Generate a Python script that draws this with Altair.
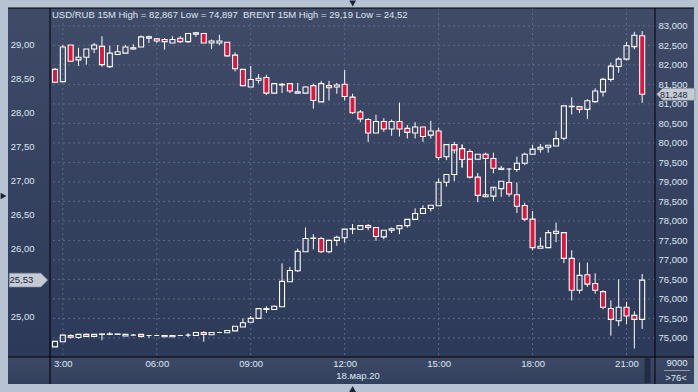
import altair as alt
import pandas as pd

# ---------------- data ----------------
start_time = "2020-03-18 02:45"
n_bars = 76
time_ticks = ["03:00", "06:00", "09:00", "12:00", "15:00", "18:00", "21:00"]

usd_open = [74.77, 74.90, 75.06, 75.01, 75.09, 75.04, 75.09, 75.09, 75.09, 75.05, 75.07, 75.09, 75.06, 75.06, 75.03, 75.03,
            75.06, 75.07, 75.06, 75.14, 75.08, 75.14, 75.13, 75.18, 75.28, 75.40, 75.50, 75.73, 75.73, 75.80, 76.44, 76.72,
            77.21, 77.55, 77.55, 77.21, 77.50, 77.57, 77.79, 77.78, 77.88, 77.83, 77.59, 77.76, 77.80, 77.88, 78.04, 78.19,
            78.32, 78.39, 78.99, 79.19, 79.85, 79.78, 79.58, 79.71, 79.60, 79.32, 79.33, 79.32, 79.48, 79.71, 79.84, 79.89,
            79.92, 80.12, 80.93, 80.93, 80.86, 81.06, 81.31, 81.63, 81.96, 82.15, 82.47, 82.75]
usd_high = [74.91, 75.07, 75.09, 75.09, 75.11, 75.09, 75.10, 75.15, 75.10, 75.09, 75.10, 75.09, 75.06, 75.06, 75.06, 75.06,
            75.06, 75.12, 75.14, 75.17, 75.14, 75.14, 75.19, 75.30, 75.50, 75.56, 75.75, 75.81, 75.83, 76.91, 76.82, 77.29,
            77.83, 77.66, 77.59, 77.52, 77.62, 77.79, 77.92, 77.88, 77.92, 77.83, 77.76, 77.83, 77.88, 78.04, 78.32, 78.40,
            78.40, 79.09, 79.19, 79.96, 79.96, 79.84, 79.71, 79.75, 79.75, 79.41, 79.35, 79.65, 79.75, 79.95, 79.97, 79.94,
            80.31, 80.95, 81.17, 80.93, 81.12, 81.40, 81.67, 82.06, 82.20, 82.59, 82.85, 82.867]
usd_low = [74.77, 74.897, 74.98, 74.98, 75.04, 75.04, 74.94, 75.07, 75.09, 75.05, 75.07, 75.01, 75.00, 75.06, 75.03, 75.03,
           75.06, 75.02, 75.06, 74.90, 75.08, 75.14, 75.13, 75.18, 75.28, 75.40, 75.50, 75.64, 75.73, 75.80, 76.44, 76.69,
           77.21, 77.27, 77.18, 77.17, 77.36, 77.44, 77.66, 77.78, 77.76, 77.49, 77.53, 77.69, 77.66, 77.83, 78.04, 78.19,
           78.24, 78.39, 78.88, 79.02, 79.37, 79.58, 79.58, 78.62, 79.22, 79.30, 79.30, 79.26, 79.43, 79.71, 79.75, 79.75,
           79.92, 80.07, 80.73, 80.77, 80.61, 81.03, 81.19, 81.57, 81.80, 82.11, 82.40, 81.03]
usd_close = [74.91, 75.07, 75.02, 75.09, 75.04, 75.09, 75.10, 75.10, 75.10, 75.09, 75.07, 75.04, 75.06, 75.06, 75.06, 75.06,
             75.06, 75.07, 75.14, 75.09, 75.14, 75.14, 75.19, 75.30, 75.39, 75.50, 75.75, 75.75, 75.81, 76.45, 76.73, 77.22,
             77.55, 77.56, 77.21, 77.50, 77.58, 77.79, 77.80, 77.88, 77.83, 77.60, 77.76, 77.80, 77.88, 78.04, 78.19, 78.32,
             78.40, 78.99, 79.19, 79.96, 79.78, 79.58, 79.71, 79.60, 79.35, 79.35, 79.33, 79.48, 79.71, 79.84, 79.89, 79.94,
             80.11, 80.95, 80.94, 80.86, 81.08, 81.33, 81.63, 81.97, 82.15, 82.49, 82.76, 81.248]

brent_open = [28.64, 28.46, 29.00, 28.78, 28.82, 28.94, 28.98, 28.68, 28.86, 28.88, 28.94, 28.97, 29.10, 29.09, 29.08, 29.03,
              29.10, 29.05, 29.16, 29.17, 29.03, 29.03, 29.04, 28.85, 28.64, 28.38, 28.48, 28.52, 28.29, 28.41, 28.43, 28.29,
              28.29, 28.40, 28.16, 28.40, 28.38, 28.42, 28.23, 28.01, 27.90, 27.70, 27.87, 27.76, 27.87, 27.77, 27.70, 27.79,
              27.67, 27.73, 27.35, 27.53, 27.47, 27.31, 27.05, 26.76, 26.77, 26.88, 26.97, 26.79, 26.63, 26.43, 26.00, 26.01,
              26.22, 26.23, 25.85, 25.38, 25.61, 25.48, 25.36, 25.11, 24.93, 25.13, 25.01, 24.95]
brent_high = [28.66, 29.00, 29.00, 28.96, 28.94, 29.03, 29.13, 28.99, 29.00, 29.00, 29.01, 29.14, 29.14, 29.10, 29.10, 29.13,
              29.13, 29.17, 29.19, 29.18, 29.08, 29.15, 29.04, 28.89, 28.64, 28.69, 28.57, 28.56, 28.43, 28.44, 28.43, 28.44,
              28.39, 28.43, 28.47, 28.47, 28.44, 28.63, 28.28, 28.04, 27.92, 27.97, 27.92, 27.90, 28.15, 27.82, 27.86, 27.79,
              27.88, 27.78, 27.53, 27.57, 27.53, 27.33, 27.11, 26.80, 26.85, 26.99, 27.16, 26.97, 26.67, 26.55, 26.16, 26.27,
              26.38, 26.23, 25.97, 25.79, 25.79, 25.63, 25.38, 25.23, 25.54, 25.21, 25.07, 25.62]
brent_low = [28.44, 28.45, 28.75, 28.69, 28.71, 28.88, 28.68, 28.66, 28.85, 28.88, 28.93, 28.97, 29.03, 29.03, 28.93, 29.03,
             29.03, 29.03, 29.12, 29.03, 28.94, 29.00, 28.83, 28.61, 28.39, 28.38, 28.43, 28.26, 28.29, 28.29, 28.29, 28.29,
             28.29, 28.06, 28.16, 28.18, 28.28, 28.18, 27.98, 27.86, 27.57, 27.70, 27.72, 27.66, 27.65, 27.62, 27.62, 27.57,
             27.62, 27.30, 27.30, 27.40, 27.19, 27.03, 26.68, 26.76, 26.70, 26.76, 26.76, 26.52, 26.40, 25.97, 26.00, 26.00,
             26.09, 25.78, 25.23, 25.33, 25.43, 25.33, 25.10, 24.71, 24.85, 24.88, 24.52, 24.81]
brent_close = [28.45, 28.97, 28.76, 28.82, 28.94, 29.00, 28.71, 28.88, 28.90, 28.97, 28.96, 29.12, 29.12, 29.06, 29.05, 29.08,
               29.05, 29.17, 29.18, 29.03, 29.06, 29.06, 28.84, 28.65, 28.40, 28.49, 28.51, 28.29, 28.43, 28.42, 28.32, 28.31,
               28.38, 28.18, 28.43, 28.37, 28.41, 28.24, 28.00, 27.91, 27.70, 27.87, 27.76, 27.87, 27.76, 27.71, 27.79, 27.65,
               27.73, 27.34, 27.53, 27.45, 27.31, 27.05, 26.78, 26.79, 26.90, 26.99, 26.80, 26.62, 26.43, 26.01, 26.03, 26.23,
               26.25, 25.85, 25.38, 25.60, 25.47, 25.38, 25.13, 24.95, 25.13, 25.00, 24.95, 25.53]

usd_ticks = [75.0, 75.5, 76.0, 76.5, 77.0, 77.5, 78.0, 78.5, 79.0, 79.5, 80.0, 80.5, 81.0, 81.5, 82.0, 82.5, 83.0]
brent_ticks = [25.0, 26.0, 26.5, 27.0, 27.5, 28.0, 28.5, 29.0]
usd_domain = [74.51, 83.46]
brent_domain = [24.395, 29.546]

header_usd = "USD/RUB 15M High = 82,867 Low = 74,897"
header_brent = "BRENT 15M High = 29,19 Low = 24,52"
date_label = "18.мар.20"
corner_top = "9000"
corner_bottom = ">76<"

# ---------------- styling ----------------
RED = "#e2143c"
TXT = "#dfe7f4"
GRID = "#5c6986"
FONT = "Liberation Sans"
FS = 9.5
W, H = 605, 349


def ms(hhmm):
    return int(pd.Timestamp(f"2020-03-18 {hhmm}", tz="UTC").timestamp() * 1000)


times = pd.date_range(start_time, periods=n_bars, freq="15min", tz="UTC")
tstr = [t.strftime("%Y-%m-%dT%H:%M:%SZ") for t in times]


def frame(o, h, l, c):
    df = pd.DataFrame({"t": tstr, "o": o, "h": h, "l": l, "c": c})
    df["top"] = df[["o", "c"]].max(axis=1)
    df["bot"] = df[["o", "c"]].min(axis=1)
    return df


usd = frame(usd_open, usd_high, usd_low, usd_close)
brent = frame(brent_open, brent_high, brent_low, brent_close)

common_axis = dict(title=None, labelOverlap=False, labelFlush=False, zindex=2, domain=False, ticks=False,
                   grid=False, labelFont=FONT, labelFontSize=FS, labelColor=TXT)

xscale = alt.Scale(type="utc", domain=[ms("02:45"), ms("21:45")])
tick_ms = [ms(t) for t in time_ticks]
xaxis = alt.Axis(values=tick_ms, labelPadding=1, **common_axis,
                 labelExpr="utchours(datum.value) == 3 ? '3:00' : utcFormat(datum.value, '%H:%M')")
X = alt.X("t:T", scale=xscale, axis=xaxis)

one = pd.DataFrame({"a": [0]})

usd_scale = alt.Scale(domain=usd_domain, nice=False, zero=False)
brent_scale = alt.Scale(domain=brent_domain, nice=False, zero=False)

usd_axis = alt.Axis(orient="right", values=usd_ticks, labelPadding=3, **common_axis,
                    labelExpr="replace(format(datum.value, '.3f'), '.', ',')")
brent_axis = alt.Axis(orient="left", values=brent_ticks, labelPadding=16, **common_axis,
                      labelExpr="replace(format(datum.value, '.2f'), '.', ',')")


def candles(df, yscale, axis):
    up = alt.Chart(df).mark_rule(color="white", strokeWidth=1, clip=True).encode(
        x=X, y=alt.Y("h:Q", scale=yscale, axis=axis), y2="top:Q")
    dn = alt.Chart(df).mark_rule(color="white", strokeWidth=1, clip=True).encode(
        x=X, y=alt.Y("bot:Q", scale=yscale, axis=axis), y2="l:Q")
    body = alt.Chart(df).mark_bar(size=5, stroke="white", strokeWidth=1.1, clip=True).encode(
        x=X, y=alt.Y("top:Q", scale=yscale, axis=axis), y2="bot:Q",
        fill=alt.condition("datum.c < datum.o", alt.value(RED), alt.value("transparent")))
    return [up, dn, body]


# background panels
grad_main = alt.LinearGradient(gradient="linear", x1=0, x2=0, y1=0, y2=1,
                               stops=[alt.GradientStop(color="#3f4b67", offset=0),
                                      alt.GradientStop(color="#2c3958", offset=1)])
grad_bottom = alt.LinearGradient(gradient="linear", x1=0, x2=0, y1=0, y2=1,
                                 stops=[alt.GradientStop(color="#3d4965", offset=0),
                                        alt.GradientStop(color="#33405d", offset=1)])
bg_main = alt.Chart(one).mark_rect(color=grad_main).encode(
    x=alt.value(-42), x2=alt.value(644), y=alt.value(0), y2=alt.value(H))
bg_bottom = alt.Chart(one).mark_rect(color=grad_bottom).encode(
    x=alt.value(-42), x2=alt.value(644), y=alt.value(H), y2=alt.value(H + 27))

# grid
grid_t = pd.DataFrame({"t": [pd.Timestamp(m, unit="ms", tz="UTC").strftime("%Y-%m-%dT%H:%M:%SZ") for m in tick_ms]})
vgrid = alt.Chart(grid_t).mark_rule(color=GRID, strokeDash=[2, 3], strokeWidth=1).encode(x=X)
hgrid = alt.Chart(pd.DataFrame({"v": usd_ticks})).mark_rule(
    color=GRID, strokeDash=[2, 3], strokeWidth=1).encode(y=alt.Y("v:Q", scale=usd_scale, axis=usd_axis))

# last-price markers
usd_last = pd.DataFrame({"v": [usd_close[-1]], "s": [f"{usd_close[-1]:.3f}".replace(".", ",")]})
brent_last = pd.DataFrame({"v": [brent_close[-1]], "s": [f"{brent_close[-1]:.2f}".replace(".", ",")]})
usd_mark = alt.Chart(usd_last).mark_point(
    shape="M-1,0 L-0.68,-0.31 L1,-0.31 L1,0.31 L-0.68,0.31 Z", size=1467, filled=True,
    fill="#c4cbd5", stroke="#8590a0", strokeWidth=0.6, opacity=1).encode(
    x=alt.value(625.8), y=alt.Y("v:Q", scale=usd_scale, axis=usd_axis))
usd_mark_t = alt.Chart(usd_last).mark_text(align="left", baseline="middle", font=FONT, fontSize=9,
                                            color="#1d2536", dy=0.5).encode(
    x=alt.value(610), y=alt.Y("v:Q", scale=usd_scale, axis=usd_axis), text="s:N")
brent_mark = alt.Chart(brent_last).mark_point(
    shape="M-1,-0.36 L0.64,-0.36 L1,0 L0.64,0.36 L-1,0.36 Z", size=1475, filled=True,
    fill="#c4cbd5", stroke="#8590a0", strokeWidth=0.6, opacity=1).encode(
    x=alt.value(-21.5), y=alt.Y("v:Q", scale=brent_scale, axis=brent_axis))
brent_mark_t = alt.Chart(brent_last).mark_text(align="left", baseline="middle", font=FONT, fontSize=FS,
                                                color="#1d2536").encode(
    x=alt.value(-40.5), y=alt.Y("v:Q", scale=brent_scale, axis=brent_axis), text="s:N")

usd_layer = alt.layer(hgrid, *candles(usd, usd_scale, usd_axis), usd_mark, usd_mark_t)
brent_layer = alt.layer(*candles(brent, brent_scale, brent_axis), brent_mark, brent_mark_t)


def txt(s, x, y, align="left", size=FS, color=TXT):
    return alt.Chart(one).mark_text(text=s, align=align, baseline="middle", font=FONT,
                                    fontSize=size, color=color).encode(x=alt.value(x), y=alt.value(y))


def line(x, x2, y, y2, color="black", w=1):
    return alt.Chart(one).mark_rule(color=color, strokeWidth=w).encode(
        x=alt.value(x), x2=alt.value(x2), y=alt.value(y), y2=alt.value(y2))


def tri(shape, x, y):
    return alt.Chart(one).mark_point(shape=shape, size=45, filled=True, color="#1b2436", opacity=1).encode(
        x=alt.value(x), y=alt.value(y))


annot = [
    line(0, 0, 0, H + 27), line(W, W, 0, H + 27), line(-42, 644, 0, 0), line(-42, 644, H, H),
    line(597.5, 597.5, H + 1, H + 26, color="#222c44", w=6),
    txt(header_usd, 2, 7), txt(header_brent, 193, 7),
    txt(date_label, 308, 368, align="center"),
    txt(corner_top, 627, 355, align="center"), txt(corner_bottom, 626, 370, align="center"),
    line(614, 640, 362.5, 362.5, color="#8d99ad", w=1),
    tri("triangle-down", 302.7, -4.5), tri("triangle-up", 302.6, 381), tri("triangle-right", -46.5, 188),
]

chart = alt.layer(bg_main, bg_bottom, vgrid, usd_layer, brent_layer, *annot).resolve_scale(
    y="independent").properties(
    width=W, height=H,
    autosize=alt.AutoSizeParams(type="none"),
    padding={"left": 50, "top": 8, "right": 43, "bottom": 35},
    background="#b7c3d2",
).configure_view(stroke=None)

chart.save("out.html", embed_options={"renderer": "svg", "actions": False})
